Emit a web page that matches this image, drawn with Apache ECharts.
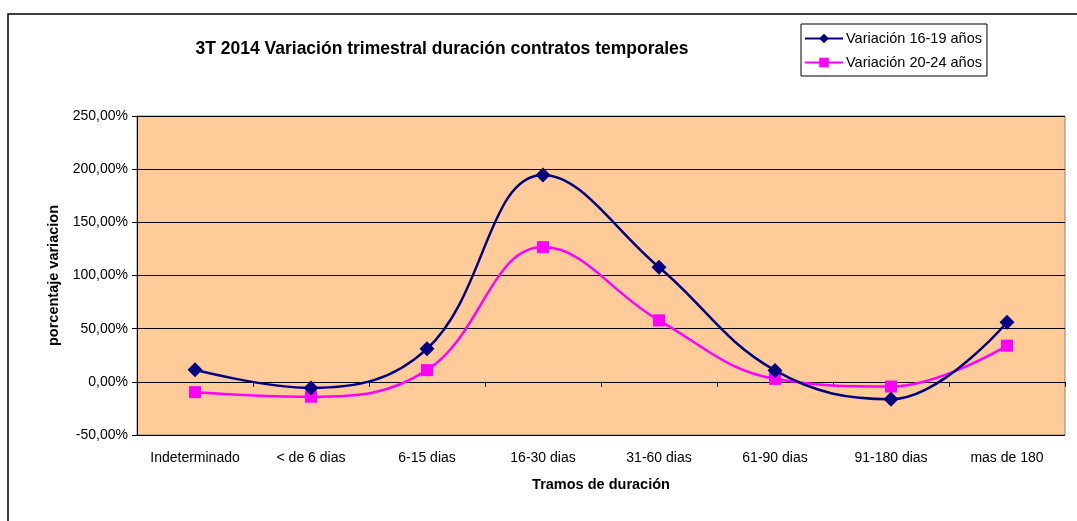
<!DOCTYPE html>
<html>
<head>
<meta charset="utf-8">
<script src="https://cdn.jsdelivr.net/npm/echarts@6/dist/echarts.min.js"></script>
<style>
  html, body { margin: 0; padding: 0; background: #fff; }
  #chart { width: 1077px; height: 521px; }
</style>
</head>
<body>
<div id="chart"></div>
<script>
const categories = ['Indeterminado', '< de 6 dias', '6-15 dias', '16-30 dias', '31-60 dias', '61-90 dias', '91-180 dias', 'mas de 180']
const var1619 = [11.3, -5.7, 31, 194.6, 107.8, 10.7, -16.3, 56]
const var2024 = [-9.7, -14, 11, 126.7, 57.8, 2.8, -4.4, 34]
const seriesNames = ['Variación 16-19 años', 'Variación 20-24 años']

const font = 'Arial, "Liberation Sans", sans-serif'
const pct = v => v.toFixed(2).replace('.', ',') + '%'

const chart = echarts.init(document.getElementById('chart'))
chart.setOption({
  backgroundColor: '#fff',
  animation: false,
  title: {
    text: '3T 2014 Variación trimestral duración contratos temporales',
    left: 437,
    top: 35,
    textAlign: 'center',
    textStyle: { fontFamily: font, fontSize: 17.5, fontWeight: 'bold', color: '#000' }
  },
  legend: {
    left: 801,
    top: 24,
    orient: 'vertical',
    itemWidth: 38,
    itemHeight: 12,
    itemGap: 9,
    padding: [7, 5, 6, 3],
    borderColor: '#000',
    borderWidth: 1,
    backgroundColor: '#fff',
    textStyle: { fontFamily: font, fontSize: 14.5, color: '#000', padding: [0, 0, 0, -2] },
    data: seriesNames
  },
  graphic: [{
    type: 'polyline',
    shape: { points: [[8, 521], [8, 14], [1077, 14]] },
    style: { stroke: '#000', lineWidth: 1.5, fill: null },
    silent: true
  }],
  grid: { left: 137, right: 12, top: 116, bottom: 86, show: true, backgroundColor: '#FFCC99', borderColor: '#808080', borderWidth: 1 },
  xAxis: {
    type: 'category',
    data: categories,
    boundaryGap: true,
    name: 'Tramos de duración',
    nameLocation: 'middle',
    nameGap: 42,
    nameTextStyle: { fontFamily: font, fontSize: 14.5, fontWeight: 'bold', color: '#000' },
    axisLine: { lineStyle: { color: '#000', width: 1 } },
    axisTick: { show: true, alignWithLabel: false, length: 5, lineStyle: { color: '#000' } },
    axisLabel: { fontFamily: font, fontSize: 14, color: '#000', margin: 16, interval: 0 }
  },
  yAxis: {
    type: 'value',
    min: -50,
    max: 250,
    interval: 50,
    name: 'porcentaje variacion',
    nameLocation: 'middle',
    nameGap: 75,
    nameTextStyle: { fontFamily: font, fontSize: 14.5, fontWeight: 'bold', color: '#000' },
    axisLine: { show: true, lineStyle: { color: '#000', width: 1 } },
    axisTick: { show: true, length: 5, lineStyle: { color: '#000' } },
    axisLabel: { fontFamily: font, fontSize: 14, color: '#000', margin: 9, formatter: pct },
    splitLine: { show: true, lineStyle: { color: '#000', width: 1 } }
  },
  series: [{
    name: seriesNames[0],
    type: 'line',
    data: var1619,
    smooth: 0.4,
    symbol: 'diamond',
    symbolSize: 15,
    lineStyle: { color: '#000080', width: 2.5 },
    itemStyle: { color: '#000080' },
    z: 3
  }, {
    name: seriesNames[1],
    type: 'line',
    data: var2024,
    smooth: 0.4,
    symbol: 'rect',
    symbolSize: 12,
    lineStyle: { color: '#FF00FF', width: 2.5 },
    itemStyle: { color: '#FF00FF' },
    z: 2
  }]
})
</script>
</body>
</html>
